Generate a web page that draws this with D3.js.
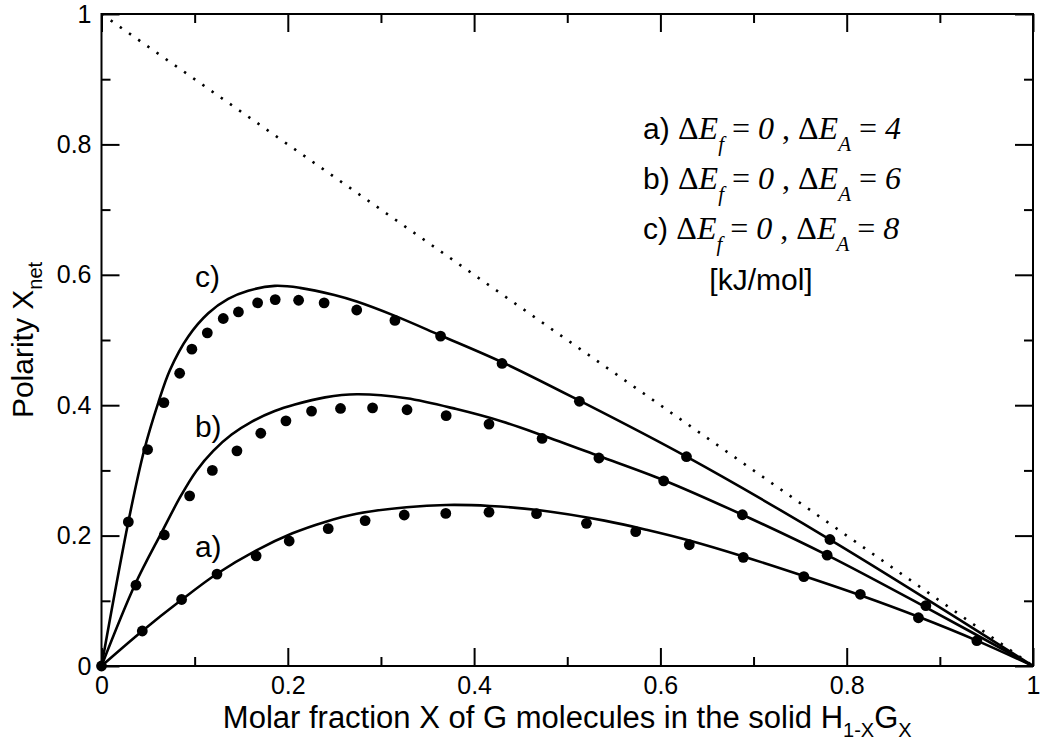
<!DOCTYPE html>
<html>
<head>
<meta charset="utf-8">
<script src="https://cdn.jsdelivr.net/npm/d3@7"></script>
<style>
  body { margin: 0; background: #fff; }
  text { font-family: "Liberation Sans", Arial, Helvetica, sans-serif; fill: #000; }
  .serif { font-family: "Liberation Serif", "Times New Roman", serif; }
  .it { font-style: italic; }
</style>
</head>
<body>
<svg id="chart" width="1041" height="747"></svg>
<script>

// Model curves (solid lines)
const lineAx = [0, 0.0438, 0.086, 0.124, 0.1658, 0.205, 0.24, 0.274, 0.3275, 0.370, 0.417, 0.4705, 0.540, 0.585, 0.631, 0.689, 0.754, 0.8146, 0.877, 0.9397, 1];
const lineAy = [0, 0.0537, 0.1015, 0.1415, 0.177, 0.2035, 0.221, 0.2335, 0.2435, 0.247, 0.2455, 0.239, 0.223, 0.209, 0.1925, 0.168, 0.138, 0.1085, 0.0755, 0.039, 0];

const lineBx = [0, 0.036, 0.0646, 0.0853, 0.102, 0.120, 0.1397, 0.161, 0.186, 0.2076, 0.240, 0.274, 0.3275, 0.381, 0.430, 0.473, 0.534, 0.6035, 0.688, 0.779, 0.885, 1];
const lineBy = [0, 0.125, 0.205, 0.2612, 0.2996, 0.330, 0.355, 0.3745, 0.391, 0.401, 0.412, 0.4167, 0.4106, 0.394, 0.375, 0.354, 0.322, 0.285, 0.232, 0.170, 0.090, 0];

const lineCx = [0, 0.0288, 0.046, 0.061, 0.0735, 0.093, 0.1146, 0.136, 0.1575, 0.186, 0.213, 0.250, 0.274, 0.315, 0.364, 0.430, 0.513, 0.628, 0.782, 1];
const lineCy = [0, 0.221, 0.332, 0.404, 0.454, 0.505, 0.541, 0.563, 0.5755, 0.583, 0.580, 0.569, 0.559, 0.537, 0.507, 0.466, 0.407, 0.321, 0.194, 0];

// Simulation points (filled circles)
const dotsAx = [0, 0.0438, 0.086, 0.124, 0.166, 0.2015, 0.2434, 0.283, 0.325, 0.3696, 0.416, 0.467, 0.5206, 0.5735, 0.631, 0.689, 0.754, 0.8146, 0.877, 0.9397];
const dotsAy = [0, 0.0537, 0.102, 0.141, 0.169, 0.1917, 0.2106, 0.223, 0.2316, 0.234, 0.236, 0.2336, 0.2188, 0.206, 0.186, 0.1667, 0.137, 0.110, 0.074, 0.0388];

const dotsBx = [0.037, 0.0674, 0.0946, 0.119, 0.1454, 0.171, 0.198, 0.2255, 0.2566, 0.291, 0.328, 0.370, 0.416, 0.473, 0.534, 0.6035, 0.688, 0.779, 0.885];
const dotsBy = [0.124, 0.201, 0.261, 0.300, 0.330, 0.357, 0.376, 0.391, 0.395, 0.396, 0.393, 0.384, 0.371, 0.349, 0.319, 0.284, 0.232, 0.170, 0.0925];

const dotsCx = [0.0288, 0.0495, 0.067, 0.0839, 0.097, 0.1136, 0.1307, 0.147, 0.1676, 0.1865, 0.2116, 0.239, 0.274, 0.315, 0.364, 0.430, 0.513, 0.628, 0.782];
const dotsCy = [0.221, 0.332, 0.404, 0.449, 0.486, 0.511, 0.533, 0.543, 0.557, 0.562, 0.561, 0.557, 0.546, 0.530, 0.506, 0.464, 0.406, 0.321, 0.194];

// upper bound X_net = 1 - X
const limitX = [0, 1];
const limitY = [1, 0];

const majorTicks = [0, 0.2, 0.4, 0.6, 0.8, 1];
const minorTicks = [0.1, 0.3, 0.5, 0.7, 0.9];

const curveTags = ['a)', 'b)', 'c)'];
const legendEf = ['0', '0', '0'];
const legendEa = ['4', '6', '8'];

// ---------------------------------------------------------------

const svg = d3.select('#chart');
const x = d3.scaleLinear().domain([0, 1]).range([101.5, 1033]);
const y = d3.scaleLinear().domain([0, 1]).range([666, 14]);

svg.append('defs').append('clipPath').attr('id', 'plot')
  .append('rect')
  .attr('x', x(0)).attr('y', y(1))
  .attr('width', x(1) - x(0)).attr('height', y(0) - y(1));

const fmt = d3.format('~g');

// axes, ticks pointing inward on all four sides
function addAxis(axisFn, transform, ticks, size, labels) {
  const a = axisFn
    .tickValues(ticks)
    .tickSizeInner(-size)
    .tickSizeOuter(0)
    .tickPadding(labels ? 10 : 0)
    .tickFormat(labels ? fmt : '');
  const g = svg.append('g').attr('transform', transform).call(a);
  g.select('.domain').remove();
  g.selectAll('.tick line').attr('stroke', '#000').attr('stroke-width', 2);
  g.selectAll('.tick text').style('font-size', '25px').style('font-family', '"Liberation Sans", Arial, sans-serif');
  return g;
}

addAxis(d3.axisBottom(x), `translate(0,${y(0)})`, majorTicks, 18, true);
addAxis(d3.axisBottom(x), `translate(0,${y(0)})`, minorTicks, 9, false);
addAxis(d3.axisTop(x), `translate(0,${y(1)})`, majorTicks, 18, false);
addAxis(d3.axisTop(x), `translate(0,${y(1)})`, minorTicks, 9, false);
addAxis(d3.axisLeft(y), `translate(${x(0)},0)`, majorTicks, 18, true);
addAxis(d3.axisLeft(y), `translate(${x(0)},0)`, minorTicks, 9, false);
addAxis(d3.axisRight(y), `translate(${x(1)},0)`, majorTicks, 18, false);
addAxis(d3.axisRight(y), `translate(${x(1)},0)`, minorTicks, 9, false);

const plot = svg.append('g').attr('clip-path', 'url(#plot)');

// dotted diagonal
plot.append('path')
  .datum(d3.zip(limitX, limitY))
  .attr('d', d3.line().x((d) => x(d[0])).y((d) => y(d[1])))
  .attr('fill', 'none')
  .attr('stroke', '#000')
  .attr('stroke-width', 2.6)
  .attr('stroke-dasharray', '2.4 8.8');

const line = d3.line()
  .x((d) => x(d[0]))
  .y((d) => y(d[1]))
  .curve(d3.curveCatmullRom.alpha(0.5));

const curves = [
  d3.zip(lineAx, lineAy),
  d3.zip(lineBx, lineBy),
  d3.zip(lineCx, lineCy)
];

plot.selectAll('path.model')
  .data(curves)
  .join('path')
  .attr('class', 'model')
  .attr('d', line)
  .attr('fill', 'none')
  .attr('stroke', '#000')
  .attr('stroke-width', 2.6);

const points = [].concat(
  d3.zip(dotsAx, dotsAy),
  d3.zip(dotsBx, dotsBy),
  d3.zip(dotsCx, dotsCy)
);

svg.selectAll('circle.sim')
  .data(points)
  .join('circle')
  .attr('class', 'sim')
  .attr('cx', (d) => x(d[0]))
  .attr('cy', (d) => y(d[1]))
  .attr('r', 5.4)
  .attr('fill', '#000');

// frame
svg.append('rect')
  .attr('x', x(0)).attr('y', y(1))
  .attr('width', x(1) - x(0)).attr('height', y(0) - y(1))
  .attr('fill', 'none')
  .attr('stroke', '#000')
  .attr('stroke-width', 2);

// curve tags next to each model line
const tagPos = [[0.1003, 0.167], [0.1003, 0.351], [0.1003, 0.582]];
svg.selectAll('text.tag')
  .data(curveTags)
  .join('text')
  .attr('class', 'tag')
  .attr('x', (d, i) => x(tagPos[i][0]))
  .attr('y', (d, i) => y(tagPos[i][1]))
  .style('font-size', '30px')
  .text((d) => d);

// legend with the energy parameters
const legend = svg.append('g');
curveTags.forEach((tag, i) => {
  const t = legend.append('text')
    .attr('x', 643)
    .attr('y', 139 + i * 50)
    .style('font-size', '30px');
  t.append('tspan').text(tag + ' ');
  const s = t.append('tspan').style('font-size', '32px');
  s.append('tspan').attr('class', 'serif').text('Δ');
  s.append('tspan').attr('class', 'serif it').text('E');
  s.append('tspan').attr('class', 'serif it').attr('dy', 12).style('font-size', '21px').text('f');
  s.append('tspan').attr('class', 'serif').attr('dy', -12).text(' = ');
  s.append('tspan').attr('class', 'serif it').text(legendEf[i]);
  s.append('tspan').attr('class', 'serif').text(' , ');
  s.append('tspan').attr('class', 'serif').text('Δ');
  s.append('tspan').attr('class', 'serif it').text('E');
  s.append('tspan').attr('class', 'serif it').attr('dy', 12).style('font-size', '21px').text('A');
  s.append('tspan').attr('class', 'serif').attr('dy', -12).text(' = ');
  s.append('tspan').attr('class', 'serif it').text(legendEa[i]);
});
legend.append('text')
  .attr('x', 761)
  .attr('y', 290)
  .attr('text-anchor', 'middle')
  .style('font-size', '30px')
  .text('[kJ/mol]');

// axis titles
const yTitle = svg.append('text')
  .attr('transform', `translate(33,${(y(0) + y(1)) / 2}) rotate(-90)`)
  .attr('text-anchor', 'middle')
  .style('font-size', '30px');
yTitle.append('tspan').text('Polarity X');
yTitle.append('tspan').attr('dy', 9).style('font-size', '20px').text('net');

const xTitle = svg.append('text')
  .attr('x', (x(0) + x(1)) / 2)
  .attr('y', 728)
  .attr('text-anchor', 'middle')
  .style('font-size', '31px');
xTitle.append('tspan').text('Molar fraction X of G molecules in the solid H');
xTitle.append('tspan').attr('dy', 9).style('font-size', '20px').text('1-X');
xTitle.append('tspan').attr('dy', -9).text('G');
xTitle.append('tspan').attr('dy', 9).style('font-size', '20px').text('X');
</script>
</body>
</html>
